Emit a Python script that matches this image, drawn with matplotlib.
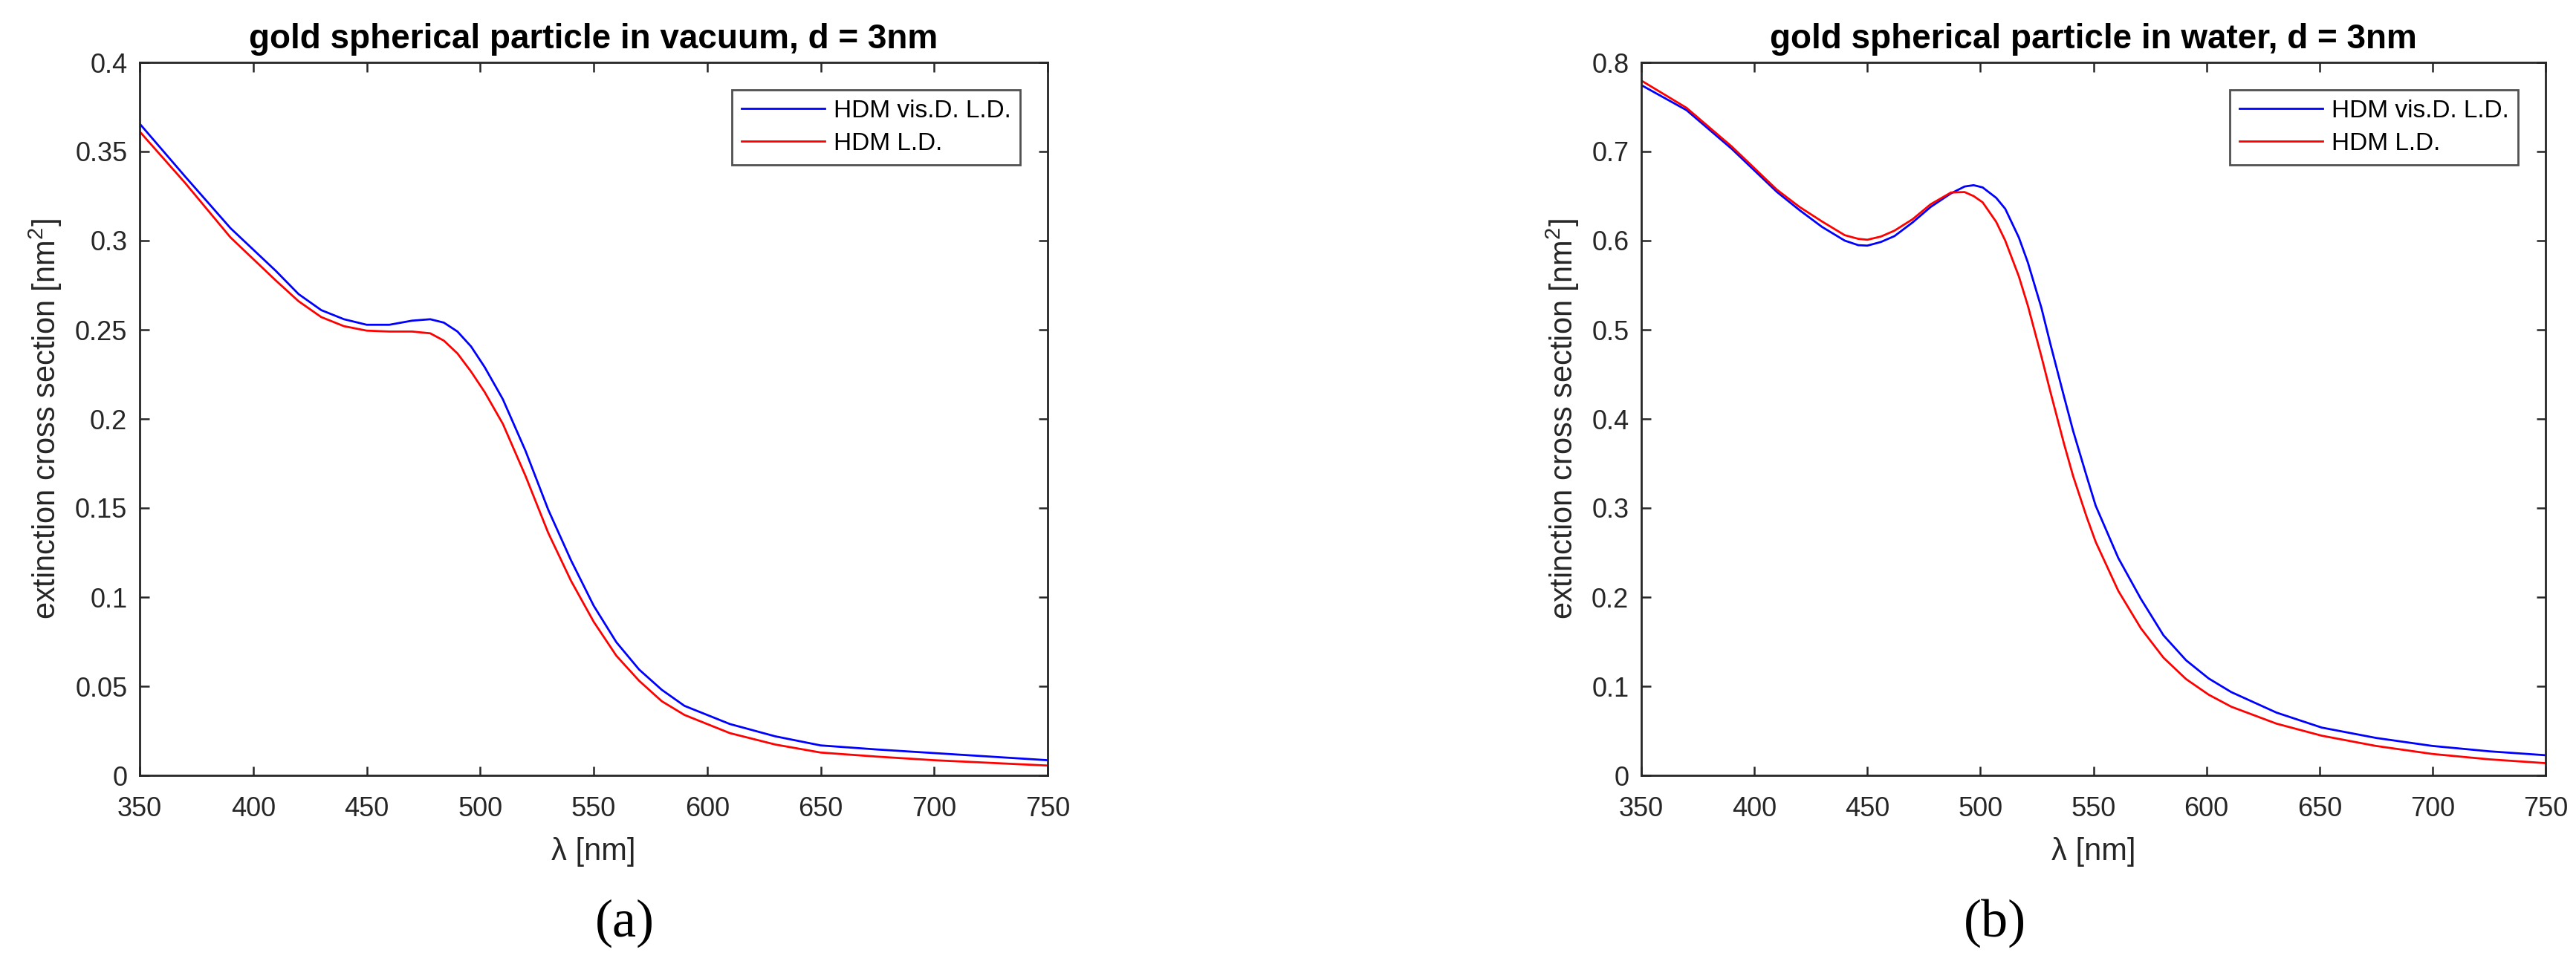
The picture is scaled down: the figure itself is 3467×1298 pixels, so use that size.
import numpy as np
import matplotlib
matplotlib.use('Agg')
import matplotlib.pyplot as plt

#=========================================================
#                  data
#=========================================================
# (a) vacuum
aL_vac = [350, 370, 390, 410, 420, 430, 440, 450, 460, 470, 478, 484, 490,
          496, 502, 510, 520, 530, 540, 550, 560, 570, 580, 590, 610, 630,
          650, 675, 700, 725, 750]
aVis_vac = [0.3656, 0.336, 0.307, 0.283, 0.270, 0.261, 0.2559, 0.2528, 0.2528,
            0.2551, 0.2559, 0.254, 0.249, 0.2406, 0.229, 0.211, 0.182, 0.149,
            0.1207, 0.0952, 0.0747, 0.0594, 0.048, 0.039, 0.0288, 0.0219,
            0.0168, 0.0145, 0.0125, 0.0105, 0.0085]
aLD_vac = [0.3612, 0.3324, 0.3018, 0.2776, 0.266, 0.2571, 0.252, 0.2495, 0.249,
           0.249, 0.248, 0.2439, 0.2367, 0.2265, 0.215, 0.1972, 0.1679, 0.136,
           0.1092, 0.0862, 0.0671, 0.0531, 0.0416, 0.0339, 0.0237, 0.0173,
           0.0128, 0.0105, 0.0085, 0.007, 0.0055]

# (b) water
aL_wat = [350, 370, 390, 410, 420, 430, 440, 446, 450, 456, 462, 470, 478,
          487, 493, 497, 501, 507, 511, 517, 521, 527, 531, 537, 541, 547,
          551, 561, 571, 581, 591, 601, 611, 631, 651, 675, 700, 725, 750]
aVis_wat = [0.7745, 0.7464, 0.703, 0.6546, 0.6342, 0.6153, 0.600, 0.5949, 0.5944,
            0.5985, 0.6051, 0.6204, 0.6378, 0.653, 0.6607, 0.6622, 0.6597, 0.648,
            0.6357, 0.6036, 0.5755, 0.5245, 0.4837, 0.425, 0.3867, 0.3357,
            0.3026, 0.2439, 0.198, 0.1571, 0.1291, 0.1087, 0.0934, 0.0704,
            0.0536, 0.042, 0.033, 0.027, 0.0226]
aLD_wat = [0.7796, 0.749, 0.7056, 0.6571, 0.6378, 0.6214, 0.6061, 0.602, 0.601,
           0.6046, 0.6112, 0.624, 0.6408, 0.654, 0.6545, 0.650, 0.643, 0.621,
           0.600, 0.560, 0.527, 0.470, 0.430, 0.372, 0.336, 0.290, 0.262,
           0.207, 0.165, 0.132, 0.108, 0.0905, 0.077, 0.058, 0.0445, 0.033,
           0.024, 0.018, 0.0137]

a_xticks = np.arange(350, 751, 50)
a_yt_vac = np.arange(0, 0.401, 0.05)
a_yt_wat = np.arange(0, 0.801, 0.1)
a_ytl_vac = ['0', '0.05', '0.1', '0.15', '0.2', '0.25', '0.3', '0.35', '0.4']
a_ytl_wat = ['0', '0.1', '0.2', '0.3', '0.4', '0.5', '0.6', '0.7', '0.8']

leg_labels = ['HDM vis.D. L.D.', 'HDM L.D.']
titles = ['gold spherical particle in vacuum, d = 3nm',
          'gold spherical particle in water, d = 3nm']

#=========================================================
#                  Plots
#=========================================================
plt.rcParams['font.family'] = ['Liberation Sans', 'DejaVu Sans']
plt.rcParams['mathtext.fontset'] = 'custom'
plt.rcParams['mathtext.rm'] = 'Liberation Sans'

W, H = 3467, 1298
fig = plt.figure(figsize=(W/100, H/100), dpi=100)

ax1 = fig.add_axes([188/W, 1-1044/H, 1222/W, 960/H])
ax2 = fig.add_axes([2209/W, 1-1044/H, 1217/W, 960/H])

panels = [(ax1, aL_vac, aVis_vac, aLD_vac, a_yt_vac, a_ytl_vac, 0.4, -0.0835, 0),
          (ax2, aL_wat, aVis_wat, aLD_wat, a_yt_wat, a_ytl_wat, 0.8, -0.0666, 1)]

for ax, aL, aV, aR, yt, ytl, ymax, ylab_x, i in panels:
    ax.plot(aL, aV, '-', color=(0, 0, 1), lw=2.0, label=leg_labels[0])
    ax.plot(aL, aR, '-', color=(1, 0, 0), lw=2.0, label=leg_labels[1])
    ax.set_xlim(350, 750)
    ax.set_ylim(0, ymax)
    ax.set_xticks(a_xticks)
    ax.set_xticklabels([str(v) for v in a_xticks])
    ax.set_yticks(yt)
    ax.set_yticklabels(ytl)
    ax.tick_params(axis='both', direction='in', length=9, width=1.8,
                   top=True, right=True, labelsize=26, colors='#262626')
    ax.tick_params(axis='x', pad=20)
    ax.tick_params(axis='y', pad=12)
    for sp in ax.spines.values():
        sp.set_linewidth(2.0)
        sp.set_color('#262626')
    ax.set_title(titles[i], fontsize=33, fontweight='bold', pad=14)
    ax.set_xlabel('λ [nm]', fontsize=30, color='#262626')
    ax.xaxis.set_label_coords(0.5, -0.086)
    ax.set_ylabel('extinction cross section [nm$^2$]', fontsize=30, color='#262626')
    ax.yaxis.set_label_coords(ylab_x, 0.5)
    leg = ax.legend(loc='upper right', bbox_to_anchor=(1-37/1220, 1-37/960),
                    borderaxespad=0, fontsize=24, frameon=True, fancybox=False,
                    handlelength=3.36, handletextpad=0.35, labelspacing=0.4,
                    borderpad=0.38)
    leg.get_frame().set_edgecolor('#262626')
    leg.get_frame().set_linewidth(2.0)

# sub-figure labels
fig.text(841/W, 1-1243/H, '(a)', fontsize=52, family='Liberation Serif',
         ha='center', va='center')
fig.text(2685/W, 1-1243/H, '(b)', fontsize=52, family='Liberation Serif',
         ha='center', va='center')

fig.savefig('out.png', dpi=100)
